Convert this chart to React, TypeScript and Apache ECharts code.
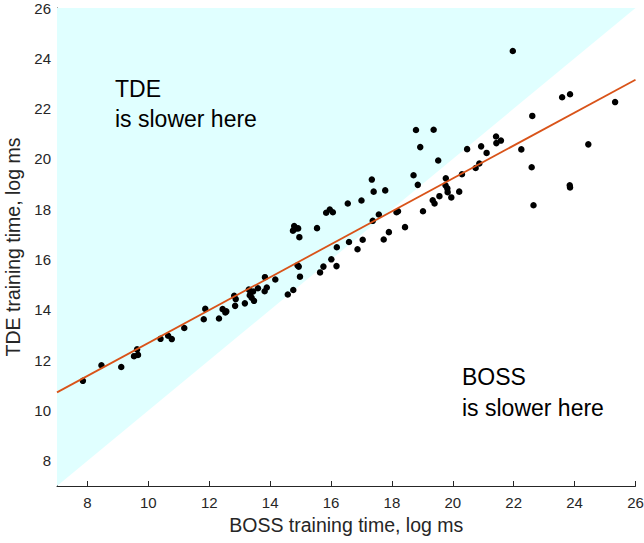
import React, { useEffect, useRef } from "react";
import * as echarts from "echarts";

const bossTimes: number[] = [
  7.85, 8.46, 9.11, 9.53, 9.63, 9.66, 10.4, 10.65, 10.77, 11.18,
  11.82, 11.87, 12.32, 12.44, 12.53, 12.56, 12.82, 12.87, 12.85, 13.17,
  13.3, 13.36, 13.39, 13.47, 13.33, 13.44, 13.6, 13.83, 13.82, 13.89,
  14.17, 14.58, 14.76, 14.9, 14.94, 14.98, 14.79, 14.75, 14.86, 14.92,
  14.96, 15.54, 15.64, 15.75, 16.01, 16.18, 16.19, 15.84, 15.96, 16.06,
  16.55, 16.59, 16.87, 17.0, 17.04, 17.34, 17.4, 17.37, 17.57, 17.73,
  17.78, 17.9, 18.15, 18.2, 18.43, 18.71, 18.85, 19.02, 19.34, 19.4,
  19.56, 18.79, 19.37, 18.93, 19.52, 19.77, 19.76, 19.82, 19.83, 19.95,
  20.21, 20.3, 20.47, 20.75, 20.87, 20.93, 21.11, 21.42, 21.43, 21.58,
  22.25, 22.61, 22.59, 22.65, 23.59, 23.85, 23.84, 23.85, 24.45, 25.33,
  21.97,
];

const tdeTimes: number[] = [
  11.18, 11.8, 11.73, 12.16, 12.43, 12.21, 12.85, 12.97, 12.84, 13.28,
  13.63, 14.04, 13.66, 14.03, 13.9, 13.94, 14.56, 14.43, 14.16, 14.26,
  14.81, 14.69, 14.49, 14.36, 14.58, 14.73, 14.86, 15.3, 14.74, 14.89,
  15.21, 14.61, 14.79, 15.77, 15.72, 15.32, 17.33, 17.15, 17.24, 17.24,
  16.89, 17.25, 15.49, 15.72, 16.01, 15.74, 16.49, 17.86, 17.99, 17.88,
  18.23, 16.7, 16.41, 18.35, 16.79, 19.18, 18.7, 17.54, 17.79, 16.8,
  18.75, 17.09, 17.88, 17.92, 17.29, 19.35, 18.97, 17.92, 18.36, 18.23,
  18.52, 21.15, 21.16, 20.47, 19.94, 19.23, 18.95, 18.83, 18.68, 18.47,
  18.7, 19.39, 20.39, 19.64, 19.82, 20.5, 20.24, 20.89, 20.63, 20.73,
  20.38, 21.71, 19.67, 18.16, 22.45, 22.57, 18.95, 18.87, 20.58, 22.26,
  24.29,
];

const axisRange: [number, number] = [7, 26];
const tickValues: number[] = [8, 10, 12, 14, 16, 18, 20, 22, 24, 26];
const fitLine: [number, number][] = [
  [7, 10.72],
  [26, 23.15],
];
const equalityLine: [number, number][] = [
  [7, 7],
  [26, 26],
];

const xTitle = "BOSS training time, log ms";
const yTitle = "TDE training time, log ms";

export default function App() {
  const ref = useRef<HTMLDivElement>(null);

  useEffect(() => {
    if (!ref.current) return;
    const chart = echarts.init(ref.current, undefined, { renderer: "svg" });
    const font = "Arial, 'Liberation Sans', Helvetica, sans-serif";
    const textColor = "#262626";

    const axisCommon = {
      type: "value" as const,
      min: axisRange[0],
      max: axisRange[1],
      splitLine: { show: false },
      axisLine: { show: true, lineStyle: { color: textColor, width: 1 } },
      nameLocation: "middle" as const,
      nameTextStyle: { fontFamily: font, fontSize: 19.5, color: textColor },
    };

    chart.setOption({
      animation: false,
      backgroundColor: "#ffffff",
      grid: {
        left: 57,
        right: 8.5,
        top: 8,
        bottom: 57,
        containLabel: false,
        outerBoundsMode: "none",
      },
      xAxis: {
        ...axisCommon,
        name: xTitle,
        nameGap: 28,
        axisTick: {
          show: true,
          inside: true,
          length: 5,
          customValues: tickValues,
          lineStyle: { color: textColor },
        },
        axisLabel: {
          customValues: tickValues,
          fontFamily: font,
          fontSize: 15,
          color: textColor,
          margin: 9,
        },
      },
      yAxis: {
        ...axisCommon,
        name: yTitle,
        nameGap: 26,
        nameRotate: 90,
        axisTick: {
          show: true,
          inside: true,
          length: 5,
          customValues: tickValues,
          lineStyle: { color: textColor },
        },
        axisLabel: {
          customValues: tickValues,
          fontFamily: font,
          fontSize: 15,
          color: textColor,
          margin: 6,
        },
      },
      series: [
        {
          type: "line",
          data: equalityLine,
          symbol: "none",
          lineStyle: { width: 0, opacity: 0 },
          areaStyle: { origin: "end", color: "#e0ffff", opacity: 1 },
          silent: true,
          z: 1,
        },
        {
          type: "scatter",
          data: bossTimes.map((x, i) => [x, tdeTimes[i]]),
          symbol: "circle",
          symbolSize: 6.5,
          itemStyle: { color: "#000000", opacity: 1 },
          z: 3,
        },
        {
          type: "line",
          data: fitLine,
          symbol: "none",
          lineStyle: { color: "#D95319", width: 1.8 },
          z: 4,
        },
      ],
      graphic: [
        {
          type: "text",
          x: 115,
          y: 89,
          z: 100,
          style: { text: "TDE", font: `23px ${font}`, fill: "#000", verticalAlign: "middle" },
        },
        {
          type: "text",
          x: 115,
          y: 119,
          z: 100,
          style: { text: "is slower here", font: `23px ${font}`, fill: "#000", verticalAlign: "middle" },
        },
        {
          type: "text",
          x: 462,
          y: 377,
          z: 100,
          style: { text: "BOSS", font: `23px ${font}`, fill: "#000", verticalAlign: "middle" },
        },
        {
          type: "text",
          x: 462,
          y: 408,
          z: 100,
          style: { text: "is slower here", font: `23px ${font}`, fill: "#000", verticalAlign: "middle" },
        },
      ],
    });

    return () => chart.dispose();
  }, []);

  return <div ref={ref} style={{ width: 644, height: 543, position: "absolute", left: 0, top: 0 }} />;
}
